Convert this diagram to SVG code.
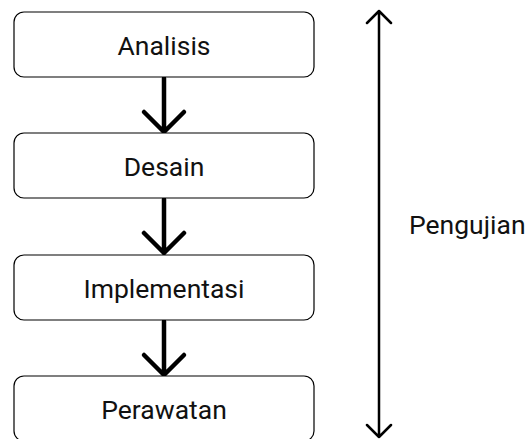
<svg xmlns="http://www.w3.org/2000/svg" width="528" height="439" viewBox="0 0 528 439">
<style>
.box{fill:#fff;stroke:#000;stroke-width:1.2}
.lbl{font-family:Roboto,"Noto Sans",sans-serif;font-size:26.5px;fill:#111;text-anchor:middle}
.flow{stroke:#000;stroke-width:4.5;fill:none;stroke-linecap:round;stroke-linejoin:round}
.span{stroke:#000;stroke-width:2.5;fill:none;stroke-linecap:round;stroke-linejoin:round}
</style>
<rect width="528" height="439" fill="#fff"/>
<g id="connectors">
<path class="flow" d="M164 78V132M144 112L164 132L184 112"/>
<path class="flow" d="M164 199V253M144 233L164 253L184 233"/>
<path class="flow" d="M164 321V375M144 355L164 375L184 355"/>
<path class="span" d="M379 11V437M367 23L379 11L391 23M367 425L379 437L391 425"/>
</g>
<g id="analisis"><rect class="box" x="14" y="12" width="300" height="65" rx="10"/><text class="lbl" x="164" y="55">Analisis</text></g>
<g id="desain"><rect class="box" x="14" y="133" width="300" height="65" rx="10"/><text class="lbl" x="164" y="176">Desain</text></g>
<g id="implementasi"><rect class="box" x="14" y="255" width="300" height="65" rx="10"/><text class="lbl" x="164" y="298">Implementasi</text></g>
<g id="perawatan"><rect class="box" x="14" y="376" width="300" height="65" rx="10"/><text class="lbl" x="164" y="419">Perawatan</text></g>
<g id="pengujian"><text class="lbl" x="409" y="234" style="text-anchor:start">Pengujian</text></g>
</svg>
